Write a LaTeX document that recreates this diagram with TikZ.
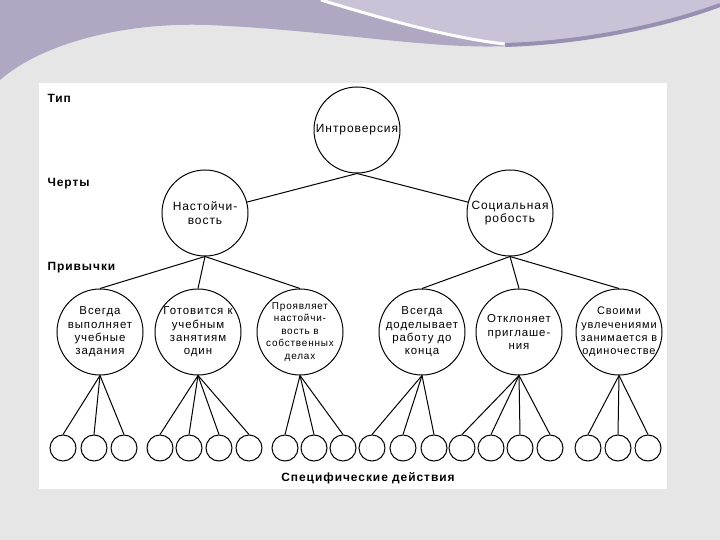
\documentclass[tikz,border=0pt]{standalone}
\usepackage{fontspec}
\setmainfont{Liberation Sans}[LetterSpace=8]
\usepackage{xcolor}
\usetikzlibrary{positioning}

\definecolor{fon}{HTML}{E6E6E6}
\definecolor{ungu}{HTML}{B0A8C2}
\definecolor{unguMuda}{HTML}{CAC3D8}
\definecolor{unguTua}{HTML}{988FB2}

\begin{document}
\begin{tikzpicture}[x=1bp, y=-1bp,
    krug/.style={draw, circle, minimum size=86bp, inner sep=-12bp, align=center,
                 line width=1bp, font=\fontsize{12}{13.5}\selectfont},
    melkij/.style={font=\fontsize{10}{12.5}\selectfont},
    malkrug/.style={draw, circle, minimum size=26bp, inner sep=0pt, line width=1bp},
    liniya/.style={line width=1bp},
    uroven/.style={anchor=west, font=\fontsize{12}{14}\selectfont\bfseries}
  ]
    % fon i volna
    \useasboundingbox (0,0) rectangle (720,540);
    \fill[fon] (0,0) rectangle (720,540);
    \fill[ungu] (0,0) -- (0,80) .. controls (40,45) and (120,22) .. (207,25)
      .. controls (330,30) and (430,50) .. (510,46)
      .. controls (600,42) and (680,20) .. (720,5) -- (720,0) -- cycle;
    \fill[unguMuda] (321,0) .. controls (380,18) and (450,38) .. (505,44)
      .. controls (600,40) and (680,18) .. (720,5) -- (720,0) -- cycle;
    \draw[white, line width=3bp] (321,0) .. controls (380,18) and (450,38) .. (505,44);
    \draw[unguTua, line width=4bp] (505,45) .. controls (600,42) and (680,20) .. (720,5);
    \fill[white] (39,83) rectangle (667,489);

    % urovni
    \node[uroven] (lTip) at (44,98) {Тип};
    \node[uroven] (lCherty) at (44,184) {Черты};
    \node[uroven] (lPriv) at (44,268) {Привычки};
    \node[font=\fontsize{12}{14}\selectfont\bfseries] (lDejst) at (368,478)
      {Специфические действия};

    % tip i cherty
    \node[krug] (tip) at (357,130) {Интроверсия};
    \node[krug] (nast) at (205,213) {Настойчи-\\вость};
    \node[krug] (rob) at (510,213) {Социальная\\робость};

    % privychki
    \node[krug, font=\fontsize{11.5}{13.5}\selectfont] (p1) at (100,332)
      {Всегда\\выполняет\\учебные\\задания};
    \node[krug, font=\fontsize{11.5}{13.5}\selectfont] (p2) at (198,332)
      {Готовится к\\учебным\\занятиям\\один};
    \node[krug, melkij] (p3) at (300,332)
      {Проявляет\\настойчи-\\вость в\\собственных\\делах};
    \node[krug, font=\fontsize{11.5}{13.5}\selectfont] (p4) at (422,332)
      {Всегда\\доделывает\\работу до\\конца};
    \node[krug, font=\fontsize{11.5}{13.5}\selectfont] (p5) at (519,332)
      {Отклоняет\\приглаше-\\ния};
    \node[krug, font=\fontsize{11}{13.5}\selectfont] (p6) at (619,332)
      {Своими\\увлечениями\\занимается в\\одиночестве};

    % specificheskie dejstvija
    \foreach \x [count=\i] in {63,94,124, 160,189,219,249, 285,314,343,
                               372,403,434, 462,491,520,550, 588,618,648}
      \node[malkrug] (d\i) at (\x,448) {};

    \draw[liniya] (tip.south) -- (nast);
    \draw[liniya] (tip.south) -- (rob);
    \foreach \p in {p1,p2,p3} \draw[liniya] (nast.south) -- (\p.north);
    \foreach \p in {p4,p5,p6} \draw[liniya] (rob.south) -- (\p.north);

    \foreach \d in {1,2,3} \draw[liniya] (p1.south) -- (d\d.north);
    \foreach \d in {4,5,6,7} \draw[liniya] (p2.south) -- (d\d.north);
    \foreach \d in {8,9,10} \draw[liniya] (p3.south) -- (d\d.north);
    \foreach \d in {11,12,13} \draw[liniya] (p4.south) -- (d\d.north);
    \foreach \d in {14,15,16,17} \draw[liniya] (p5.south) -- (d\d.north);
    \foreach \d in {18,19,20} \draw[liniya] (p6.south) -- (d\d.north);
\end{tikzpicture}
\end{document}
